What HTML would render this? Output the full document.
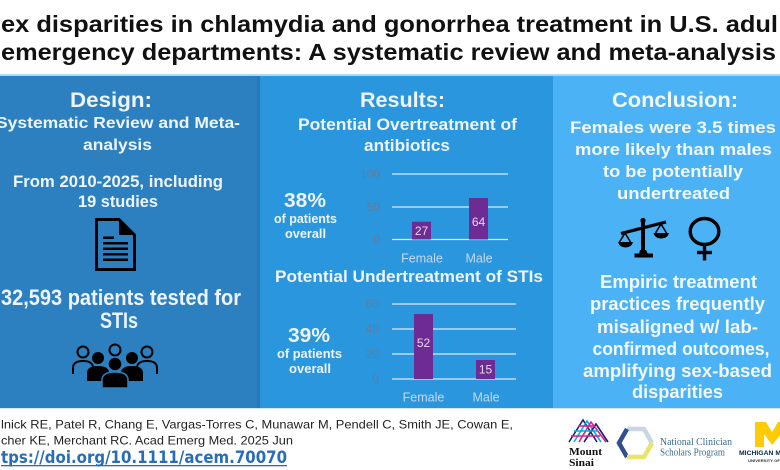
<!DOCTYPE html>
<html><head><meta charset="utf-8"><style>
html,body{margin:0;padding:0;background:#fff;}
svg{display:block;font-family:"Liberation Sans",Arial,sans-serif;}
</style></head><body>
<svg width="780" height="470" viewBox="0 0 780 470" xmlns="http://www.w3.org/2000/svg">
<rect x="0" y="0" width="780" height="470" fill="#ffffff"/>
<!-- Title -->
<text x="1" y="32" font-size="23" font-weight="bold" fill="#111" textLength="777" lengthAdjust="spacingAndGlyphs">ex disparities in chlamydia and gonorrhea treatment in U.S. adul</text>
<text x="1" y="60" font-size="23" font-weight="bold" fill="#111" textLength="775" lengthAdjust="spacingAndGlyphs">emergency departments: A systematic review and meta-analysis</text>
<!-- panels -->
<rect x="0" y="74" width="780" height="2" fill="#a9daf3"/>
<rect x="0" y="76" width="258" height="332" fill="#2d80c0"/>
<rect x="257" y="76" width="3" height="332" fill="#2a76b6"/>
<rect x="260" y="76" width="293" height="332" fill="#2a96de"/>
<rect x="553" y="76" width="227" height="332" fill="#4bb3f5"/>
<rect x="0" y="408" width="780" height="1" fill="#d3e9f6"/>

<!-- Panel 1 -->
<g fill="#eef4fa" font-weight="bold" text-anchor="middle">
<text x="111" y="107" font-size="21" textLength="82" lengthAdjust="spacingAndGlyphs">Design:</text>
<text x="118" y="128" font-size="16" textLength="244" lengthAdjust="spacingAndGlyphs">Systematic Review and Meta-</text>
<text x="117.5" y="150" font-size="16" textLength="69" lengthAdjust="spacingAndGlyphs">analysis</text>
<text x="118" y="187" font-size="17" textLength="210" lengthAdjust="spacingAndGlyphs">From 2010-2025, including</text>
<text x="118" y="207" font-size="17" textLength="80" lengthAdjust="spacingAndGlyphs">19 studies</text>
<text x="121" y="305" font-size="22" textLength="240" lengthAdjust="spacingAndGlyphs">32,593 patients tested for</text>
<text x="119" y="328" font-size="22" textLength="38" lengthAdjust="spacingAndGlyphs">STIs</text>
</g>
<!-- document icon -->
<g>
<path d="M96.5,219.5 H119 L134.5,235 V269.5 H96.5 Z" fill="none" stroke="#000" stroke-width="3" stroke-linejoin="miter"/>
<path d="M119,219.5 V235 H134.5 Z" fill="#000"/>
<rect x="103" y="236.5" width="11" height="2.5" fill="#000"/>
<rect x="103" y="242" width="25" height="2.5" fill="#000"/>
<rect x="103" y="247.5" width="25" height="2.5" fill="#000"/>
<rect x="103" y="253" width="25" height="2.5" fill="#000"/>
<rect x="103" y="258.5" width="25" height="2.5" fill="#000"/>
</g>
<!-- people icon -->
<g stroke="#000" stroke-width="2" fill="none">
<circle cx="83" cy="352" r="5.5"/>
<circle cx="115" cy="350" r="5.5"/>
<circle cx="147" cy="352" r="5.5"/>
<path d="M73,374 V368 Q73,361 83,361 Q93,361 93,368"/>
<path d="M137,368 Q137,361 147,361 Q157,361 157,368 V374"/>
</g>
<g fill="#000">
<circle cx="98" cy="358" r="6"/>
<circle cx="132" cy="358" r="6"/>
<path d="M87,381 V373 Q87,366 98,366 Q109,366 109,373 V381 Z"/>
<path d="M121,381 V373 Q121,366 132,366 Q143,366 143,373 V381 Z"/>
<circle cx="115" cy="364" r="7" stroke="#2d80c0" stroke-width="1.5"/>
<path d="M102,388 V380 Q102,372 115,372 Q128,372 128,380 V388 Z" stroke="#2d80c0" stroke-width="1.5"/>
</g>

<!-- Panel 2 -->
<g fill="#eef4fa" font-weight="bold" text-anchor="middle">
<text x="402.5" y="107" font-size="21" textLength="85" lengthAdjust="spacingAndGlyphs">Results:</text>
<text x="407.5" y="130" font-size="17" textLength="219" lengthAdjust="spacingAndGlyphs">Potential Overtreatment of</text>
<text x="407" y="151" font-size="17" textLength="86" lengthAdjust="spacingAndGlyphs">antibiotics</text>
<text x="305" y="207" font-size="20" textLength="42" lengthAdjust="spacingAndGlyphs">38%</text>
<text x="305.5" y="223" font-size="13" textLength="63" lengthAdjust="spacingAndGlyphs">of patients</text>
<text x="305.5" y="238" font-size="13" textLength="41" lengthAdjust="spacingAndGlyphs">overall</text>
<text x="409" y="282" font-size="17" textLength="268" lengthAdjust="spacingAndGlyphs">Potential Undertreatment of STIs</text>
<text x="309" y="342" font-size="20" textLength="42" lengthAdjust="spacingAndGlyphs">39%</text>
<text x="309.5" y="358" font-size="13" textLength="65" lengthAdjust="spacingAndGlyphs">of patients</text>
<text x="310" y="373" font-size="13" textLength="42" lengthAdjust="spacingAndGlyphs">overall</text>
</g>
<!-- chart 1 -->
<g stroke="#dce9f5" stroke-width="1.2">
<line x1="392" y1="174" x2="508" y2="174"/>
<line x1="392" y1="207" x2="508" y2="207"/>
<line x1="392" y1="239.5" x2="508" y2="239.5"/>
</g>
<g fill="#5f7e9e" font-size="12" text-anchor="end">
<text x="380" y="178">100</text>
<text x="380" y="211">50</text>
<text x="380" y="243.5">0</text>
</g>
<rect x="412" y="221.7" width="19" height="17.8" fill="#6e2b94"/>
<rect x="469" y="198" width="19" height="41.5" fill="#6e2b94"/>
<g fill="#e4daf0" font-size="12" text-anchor="middle">
<text x="421.5" y="235">27</text>
<text x="478.5" y="226">64</text>
</g>
<g fill="#c4d9ec" font-size="12.5" text-anchor="middle">
<text x="422" y="262.5">Female</text>
<text x="479" y="262.5">Male</text>
</g>
<!-- chart 2 -->
<g stroke="#dce9f5" stroke-width="1.2">
<line x1="392" y1="304" x2="516" y2="304"/>
<line x1="392" y1="329" x2="516" y2="329"/>
<line x1="392" y1="354" x2="516" y2="354"/>
<line x1="392" y1="379" x2="516" y2="379"/>
</g>
<g fill="#5f7e9e" font-size="12" text-anchor="end">
<text x="379" y="308">60</text>
<text x="379" y="333">40</text>
<text x="379" y="358">20</text>
<text x="379" y="383">0</text>
</g>
<rect x="414" y="314" width="19" height="65" fill="#6e2b94"/>
<rect x="476" y="360" width="19" height="19" fill="#6e2b94"/>
<g fill="#e4daf0" font-size="12" text-anchor="middle">
<text x="423.5" y="347">52</text>
<text x="485.5" y="373.5">15</text>
</g>
<g fill="#c4d9ec" font-size="12.5" text-anchor="middle">
<text x="423.5" y="401.5">Female</text>
<text x="486" y="401.5">Male</text>
</g>

<!-- Panel 3 -->
<g fill="#f2f7fb" font-weight="bold" text-anchor="middle">
<text x="675" y="107" font-size="21" textLength="126" lengthAdjust="spacingAndGlyphs">Conclusion:</text>
<text x="673" y="133" font-size="17" textLength="206" lengthAdjust="spacingAndGlyphs">Females were 3.5 times</text>
<text x="673.5" y="155" font-size="17" textLength="197" lengthAdjust="spacingAndGlyphs">more likely than males</text>
<text x="673" y="177" font-size="17" textLength="140" lengthAdjust="spacingAndGlyphs">to be potentially</text>
<text x="673.5" y="199" font-size="17" textLength="113" lengthAdjust="spacingAndGlyphs">undertreated</text>
<text x="678.5" y="288" font-size="18" textLength="157" lengthAdjust="spacingAndGlyphs">Empiric treatment</text>
<text x="677.5" y="310" font-size="18" textLength="175" lengthAdjust="spacingAndGlyphs">practices frequently</text>
<text x="677.5" y="333" font-size="18" textLength="161" lengthAdjust="spacingAndGlyphs">misaligned w/ lab-</text>
<text x="681" y="355" font-size="18" textLength="177" lengthAdjust="spacingAndGlyphs">confirmed outcomes,</text>
<text x="677.5" y="377" font-size="18" textLength="189" lengthAdjust="spacingAndGlyphs">amplifying sex-based</text>
<text x="677.5" y="398" font-size="18" textLength="91" lengthAdjust="spacingAndGlyphs">disparities</text>
</g>
<!-- scale icon -->
<g fill="#000" stroke="#000">
<line x1="621" y1="233.5" x2="666" y2="222" stroke-width="3.2"/>
<line x1="643" y1="221" x2="643" y2="255" stroke-width="4"/>
<path d="M640,250 H646 L648,254 H639 Z" stroke="none"/>
<rect x="634.5" y="253.5" width="18.5" height="4" stroke="none"/>
<path d="M625,233 L619.5,242 M625,233 L630.5,242" fill="none" stroke-width="1.6"/>
<path d="M618,242 H633 Q631.5,247.5 625.5,247.5 Q619.5,247.5 618,242 Z" stroke="none"/>
<path d="M661,224 L655.5,233 M661,224 L666.5,233" fill="none" stroke-width="1.6"/>
<path d="M653.5,233 H669 Q667.5,238.5 661.3,238.5 Q655,238.5 653.5,233 Z" stroke="none"/>
<circle cx="643" cy="220.5" r="2.6" stroke="none"/>
</g>
<!-- female symbol -->
<g fill="none" stroke="#000" stroke-width="3.4">
<ellipse cx="704.5" cy="231.5" rx="14.3" ry="13"/>
<line x1="704.5" y1="244.5" x2="704.5" y2="260.5"/>
<line x1="697" y1="252.5" x2="712" y2="252.5"/>
</g>

<!-- citation -->
<g fill="#222" font-size="12">
<text x="1" y="428.5" textLength="512" lengthAdjust="spacingAndGlyphs">lnick RE, Patel R, Chang E, Vargas-Torres C, Munawar M, Pendell C, Smith JE, Cowan E,</text>
<text x="1" y="444.5" textLength="292" lengthAdjust="spacingAndGlyphs">cher KE, Merchant RC. Acad Emerg Med. 2025 Jun</text>
</g>
<text x="1" y="463" font-size="16.5" font-weight="bold" fill="#2b6cb8" font-family="DejaVu Sans, Liberation Sans, sans-serif" textLength="286" lengthAdjust="spacingAndGlyphs">tps://doi.org/10.1111/acem.70070</text>
<rect x="1" y="465" width="286" height="1.3" fill="#2b6cb8"/>

<!-- Mount Sinai logo -->
<g stroke-width="1.6" fill="none">
<path d="M569,442 L583,420 L597,442" stroke="#221f72"/>
<path d="M574,442 L587,421 L601,442" stroke="#00aeef"/>
<path d="M579,442 L591,422 L606,442" stroke="#dc1f8c"/>
<path d="M584,442 L596,424 L608,442" stroke="#221f72"/>
<path d="M571,436 L600,436" stroke="#dc1f8c"/>
<path d="M574,431 L598,431" stroke="#00aeef"/>
<path d="M578,426 L595,426" stroke="#dc1f8c"/>
</g>
<g fill="#111" font-weight="bold" font-family="Liberation Serif, serif">
<text x="569" y="455" font-size="11" textLength="33" lengthAdjust="spacingAndGlyphs">Mount</text>
<text x="569" y="466" font-size="11" textLength="25" lengthAdjust="spacingAndGlyphs">Sinai</text>
</g>
<!-- NCSP hexagon -->
<g fill="none" stroke-width="4.5">
<path d="M627,429 L644,429 L652,443" stroke="#c9d6e3"/>
<path d="M627,429 L619,443 L627,457" stroke="#2f4f8f"/>
<path d="M652,443 L644,457 L627,457" stroke="#e9e36a"/>
</g>
<g fill="#3b6d8e" font-family="Liberation Serif, serif" font-size="10">
<text x="660" y="445" textLength="72" lengthAdjust="spacingAndGlyphs">National Clinician</text>
<text x="660" y="455.5" textLength="65" lengthAdjust="spacingAndGlyphs">Scholars Program</text>
</g>
<!-- Michigan -->
<path d="M755,422 H766 L772,432 L778,422 H790 V447 H781 V434 L772,445 L764,434 V447 H755 Z" fill="#ffcb05"/>
<text x="739" y="455" font-size="6.5" font-weight="bold" fill="#00274c" textLength="42" lengthAdjust="spacingAndGlyphs">MICHIGAN M</text>
<text x="748" y="462" font-size="3.5" font-weight="bold" fill="#333" textLength="32" lengthAdjust="spacingAndGlyphs">UNIVERSITY OF</text>
</svg>
</body></html>
